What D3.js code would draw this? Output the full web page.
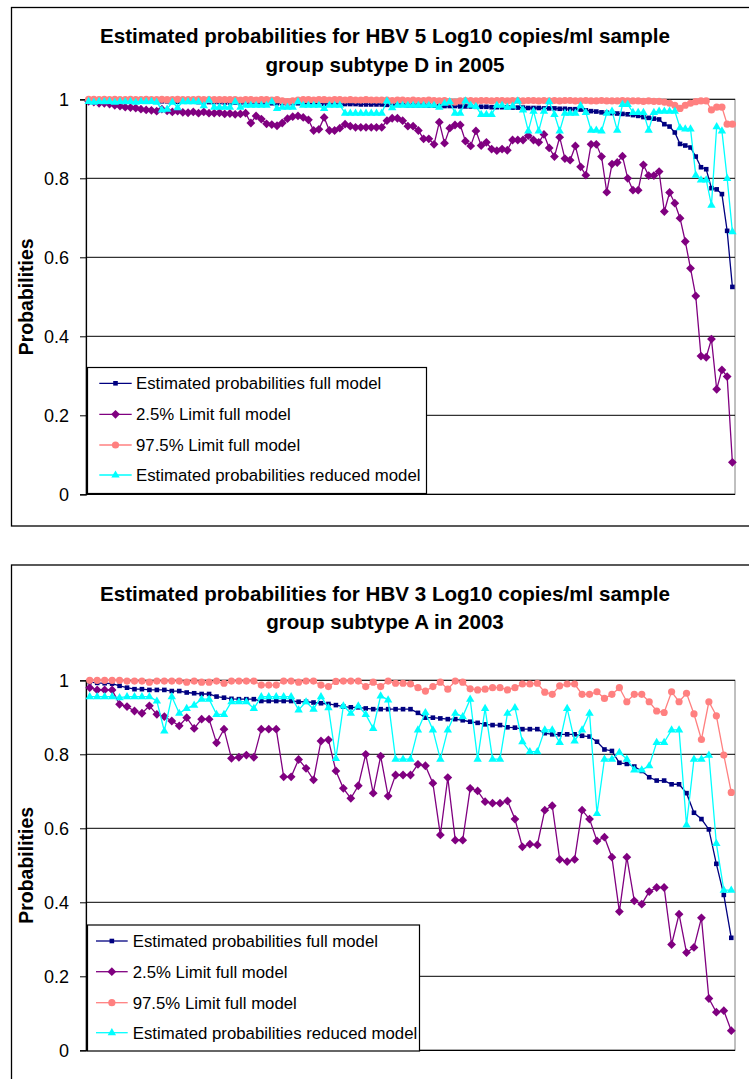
<!DOCTYPE html>
<html>
<head>
<meta charset="utf-8">
<script src="https://cdn.jsdelivr.net/npm/d3@7"></script>
<style>
  body { margin: 0; background: #fff; }
  svg { display: block; }
  text { font-family: Arial, "Liberation Sans", sans-serif; }
</style>
</head>
<body>
<svg id="chart" width="749" height="1079"></svg>
<script>
// Series shared by both panels
const seriesNames = [
  "Estimated probabilities full model",
  "2.5% Limit full model",
  "97.5% Limit full model",
  "Estimated probabilities reduced model"
];
const seriesColors = ["#000080", "#800080", "#FF8080", "#00FFFF"];
const seriesMarkers = ["square", "diamond", "circle", "triangle"];

const tickValues = [0, 0.2, 0.4, 0.6, 0.8, 1];
const tickLabels = ["0", "0.2", "0.4", "0.6", "0.8", "1"];

// Panel 1: HBV 5 Log10 copies/ml, subtype D, 2005 (124 samples)
const titleD2005 = ["Estimated probabilities for HBV 5 Log10 copies/ml sample", "group subtype D in 2005"];
const fullD2005 = [
  0.998, 0.998, 0.998, 0.997, 0.997, 0.997, 0.997, 0.996, 0.996, 0.996,
  0.996, 0.995, 0.995, 0.995, 0.995, 0.995, 0.994, 0.994, 0.994, 0.994,
  0.994, 0.993, 0.993, 0.993, 0.993, 0.993, 0.992, 0.992, 0.992, 0.992,
  0.992, 0.991, 0.991, 0.991, 0.991, 0.990, 0.990, 0.990, 0.990, 0.990,
  0.990, 0.989, 0.989, 0.989, 0.989, 0.989, 0.988, 0.988, 0.988, 0.988,
  0.988, 0.988, 0.987, 0.987, 0.987, 0.987, 0.987, 0.986, 0.986, 0.986,
  0.986, 0.985, 0.985, 0.985, 0.985, 0.984, 0.984, 0.984, 0.983, 0.983,
  0.983, 0.982, 0.982, 0.982, 0.981, 0.981, 0.981, 0.980, 0.980, 0.980,
  0.980, 0.979, 0.979, 0.979, 0.978, 0.978, 0.978, 0.977, 0.977, 0.977,
  0.976, 0.976, 0.975, 0.975, 0.974, 0.972, 0.970, 0.969, 0.967, 0.966,
  0.965, 0.964, 0.963, 0.962, 0.960, 0.958, 0.955, 0.953, 0.951, 0.949,
  0.937, 0.931, 0.916, 0.887, 0.883, 0.878, 0.855, 0.828, 0.823, 0.775,
  0.772, 0.760, 0.667, 0.525
];
const lowerD2005 = [
  0.995, 0.993, 0.990, 0.990, 0.988, 0.985, 0.983, 0.980, 0.979, 0.978,
  0.975, 0.973, 0.972, 0.970, 0.975, 0.971, 0.968, 0.970, 0.967, 0.966,
  0.968, 0.965, 0.968, 0.965, 0.965, 0.966, 0.963, 0.964, 0.962, 0.963,
  0.965, 0.940, 0.958, 0.950, 0.938, 0.936, 0.933, 0.940, 0.951, 0.956,
  0.958, 0.954, 0.948, 0.921, 0.924, 0.954, 0.921, 0.921, 0.927, 0.937,
  0.932, 0.929, 0.929, 0.929, 0.929, 0.929, 0.929, 0.946, 0.952, 0.952,
  0.946, 0.932, 0.932, 0.921, 0.900, 0.900, 0.886, 0.942, 0.889, 0.927,
  0.935, 0.935, 0.894, 0.882, 0.920, 0.883, 0.891, 0.874, 0.870, 0.874,
  0.871, 0.897, 0.897, 0.897, 0.908, 0.897, 0.891, 0.911, 0.877, 0.855,
  0.904, 0.850, 0.846, 0.882, 0.829, 0.808, 0.886, 0.886, 0.855, 0.765,
  0.836, 0.840, 0.856, 0.800, 0.770, 0.770, 0.834, 0.807, 0.807, 0.817,
  0.716, 0.764, 0.737, 0.699, 0.640, 0.572, 0.502, 0.350, 0.347, 0.393,
  0.266, 0.315, 0.298, 0.081
];
const upperD2005 = [
  1.000, 1.000, 0.999, 1.000, 0.999, 1.000, 0.999, 0.999, 1.000, 0.999,
  0.999, 1.000, 0.999, 0.999, 1.000, 0.999, 0.999, 1.000, 0.999, 0.999,
  0.999, 1.000, 0.999, 0.999, 0.999, 0.999, 0.999, 0.999, 0.999, 0.998,
  0.999, 0.999, 0.998, 0.999, 0.999, 0.998, 0.999, 0.996, 0.994, 0.996,
  0.998, 0.999, 0.999, 0.998, 0.999, 0.999, 0.998, 0.999, 0.999, 0.998,
  0.999, 0.998, 0.998, 0.999, 0.998, 0.998, 0.998, 0.998, 0.997, 0.998,
  0.998, 0.997, 0.998, 0.997, 0.997, 0.998, 0.997, 0.996, 0.997, 0.994,
  0.993, 0.996, 0.997, 0.997, 0.996, 0.997, 0.997, 0.996, 0.997, 0.997,
  0.996, 0.997, 0.997, 0.996, 0.997, 0.997, 0.996, 0.997, 0.996, 0.997,
  0.996, 0.997, 0.997, 0.996, 0.996, 0.997, 0.996, 0.996, 0.997, 0.996,
  0.996, 0.996, 0.997, 0.996, 0.996, 0.996, 0.995, 0.996, 0.995, 0.995,
  0.993, 0.990, 0.985, 0.977, 0.985, 0.990, 0.994, 0.996, 0.996, 0.973,
  0.980, 0.980, 0.937, 0.937
];
const reducedD2005 = [
  0.995, 0.993, 0.995, 0.994, 0.995, 0.993, 0.995, 0.994, 0.995, 0.993,
  0.995, 0.994, 0.995, 0.993, 0.973, 0.975, 0.993, 0.979, 0.994, 0.994,
  0.994, 0.994, 0.984, 0.998, 0.980, 0.980, 0.980, 0.980, 0.994, 0.980,
  0.985, 0.985, 0.985, 0.985, 0.985, 0.994, 0.977, 0.980, 0.980, 0.980,
  0.994, 0.985, 0.985, 0.985, 0.985, 0.977, 0.985, 0.985, 0.985, 0.965,
  0.965, 0.965, 0.965, 0.965, 0.965, 0.965, 0.965, 0.996, 0.979, 0.985,
  0.985, 0.985, 0.985, 0.985, 0.985, 0.985, 0.985, 0.980, 0.990, 0.994,
  0.965, 0.965, 0.996, 0.985, 0.982, 0.962, 0.962, 0.962, 0.985, 0.985,
  0.980, 0.983, 0.996, 0.973, 0.920, 0.970, 0.920, 0.970, 0.994, 0.962,
  0.920, 0.965, 0.965, 0.965, 0.984, 0.967, 0.922, 0.922, 0.920, 0.965,
  0.970, 0.922, 0.987, 0.987, 0.967, 0.967, 0.967, 0.922, 0.967, 0.970,
  0.970, 0.970, 0.970, 0.928, 0.925, 0.925, 0.808, 0.796, 0.796, 0.732,
  0.931, 0.920, 0.800, 0.665
];

// Panel 2: HBV 3 Log10 copies/ml, subtype A, 2003 (87 samples)
const titleA2003 = ["Estimated probabilities for HBV 3 Log10 copies/ml sample", "group subtype A in 2003"];
const fullA2003 = [
  0.995, 0.993, 0.992, 0.991, 0.985, 0.980, 0.976, 0.976, 0.974, 0.974,
  0.974, 0.971, 0.971, 0.967, 0.965, 0.963, 0.963, 0.956, 0.953, 0.950,
  0.949, 0.949, 0.949, 0.944, 0.944, 0.944, 0.944, 0.944, 0.942, 0.942,
  0.940, 0.938, 0.936, 0.933, 0.929, 0.927, 0.927, 0.924, 0.922, 0.922,
  0.922, 0.922, 0.922, 0.922, 0.912, 0.899, 0.899, 0.897, 0.895, 0.895,
  0.892, 0.888, 0.885, 0.881, 0.879, 0.879, 0.873, 0.872, 0.868, 0.868,
  0.868, 0.857, 0.854, 0.854, 0.854, 0.854, 0.850, 0.848, 0.834, 0.813,
  0.809, 0.777, 0.774, 0.767, 0.755, 0.738, 0.729, 0.729, 0.719, 0.719,
  0.695, 0.642, 0.625, 0.597, 0.504, 0.420, 0.304
];
const lowerA2003 = [
  0.980, 0.974, 0.974, 0.974, 0.935, 0.929, 0.917, 0.911, 0.931, 0.908,
  0.902, 0.890, 0.877, 0.899, 0.870, 0.895, 0.895, 0.831, 0.868, 0.789,
  0.792, 0.798, 0.792, 0.868, 0.868, 0.868, 0.739, 0.739, 0.786, 0.762,
  0.731, 0.836, 0.839, 0.755, 0.708, 0.681, 0.715, 0.800, 0.695, 0.795,
  0.687, 0.744, 0.744, 0.744, 0.773, 0.769, 0.722, 0.582, 0.737, 0.568,
  0.568, 0.708, 0.701, 0.672, 0.668, 0.668, 0.674, 0.625, 0.550, 0.557,
  0.555, 0.649, 0.661, 0.516, 0.510, 0.516, 0.649, 0.625, 0.566, 0.576,
  0.522, 0.375, 0.522, 0.404, 0.395, 0.429, 0.440, 0.440, 0.286, 0.368,
  0.264, 0.278, 0.358, 0.140, 0.103, 0.107, 0.053
];
const upperA2003 = [
  1.000, 1.000, 1.000, 1.000, 1.000, 0.998, 0.998, 0.998, 0.995, 0.998,
  0.998, 0.998, 0.998, 0.995, 0.998, 0.995, 0.995, 0.998, 0.992, 0.998,
  0.998, 0.998, 0.998, 0.987, 0.987, 0.987, 0.998, 0.998, 0.995, 0.998,
  0.998, 0.987, 0.983, 0.997, 0.998, 0.998, 0.998, 0.983, 0.995, 0.983,
  0.998, 0.992, 0.992, 0.990, 0.980, 0.971, 0.983, 0.995, 0.976, 0.998,
  0.995, 0.977, 0.974, 0.976, 0.980, 0.980, 0.974, 0.980, 0.990, 0.990,
  0.992, 0.968, 0.962, 0.985, 0.990, 0.990, 0.962, 0.962, 0.969, 0.951,
  0.962, 0.980, 0.942, 0.962, 0.962, 0.942, 0.917, 0.913, 0.969, 0.942,
  0.965, 0.909, 0.840, 0.942, 0.904, 0.798, 0.697
];
const reducedA2003 = [
  0.956, 0.956, 0.956, 0.956, 0.953, 0.956, 0.956, 0.956, 0.956, 0.944,
  0.863, 0.956, 0.911, 0.924, 0.933, 0.949, 0.949, 0.908, 0.908, 0.942,
  0.942, 0.942, 0.924, 0.956, 0.956, 0.956, 0.956, 0.956, 0.920, 0.942,
  0.922, 0.956, 0.926, 0.789, 0.931, 0.911, 0.931, 0.908, 0.870, 0.958,
  0.947, 0.787, 0.787, 0.787, 0.866, 0.913, 0.866, 0.787, 0.866, 0.911,
  0.902, 0.949, 0.787, 0.924, 0.787, 0.787, 0.911, 0.926, 0.834, 0.807,
  0.807, 0.866, 0.866, 0.832, 0.924, 0.836, 0.866, 0.911, 0.640, 0.787,
  0.787, 0.805, 0.787, 0.758, 0.758, 0.769, 0.832, 0.832, 0.866, 0.866,
  0.609, 0.787, 0.787, 0.798, 0.559, 0.433, 0.433
];

// Marker outlines centred on (0,0)
function markerPath(kind) {
  switch (kind) {
    case "square":   return "M-2.3,-2.3h4.6v4.6h-4.6Z";
    case "diamond":  return "M0,-4.4L4.4,0L0,4.4L-4.4,0Z";
    case "circle":   return "M3.6,0A3.6,3.6 0 1,1 -3.6,0A3.6,3.6 0 1,1 3.6,0Z";
    case "triangle": return "M0,-4.6L4.2,2.6L-4.2,2.6Z";
  }
}

const svg = d3.select("#chart");
const plotLeft = 86, plotRight = 735;

function drawPanel(cfg) {
  const g = svg.append("g");

  // outer chart frame
  g.append("rect")
    .attr("x", 11.5).attr("y", cfg.frameTop)
    .attr("width", 770).attr("height", cfg.frameHeight)
    .attr("fill", "#fff").attr("stroke", "#000").attr("stroke-width", 1.3);

  // title
  g.append("text")
    .attr("x", 385).attr("text-anchor", "middle")
    .attr("font-size", 20.6).attr("font-weight", "bold")
    .selectAll("tspan").data(cfg.title).join("tspan")
    .attr("x", 385).attr("y", (d, i) => cfg.titleY[i])
    .text(d => d);

  const n = cfg.series[0].length;
  const x = d3.scaleBand().domain(d3.range(n)).range([plotLeft, plotRight]);
  const cx = i => x(i) + x.bandwidth() / 2;
  const y = d3.scaleLinear().domain([0, 1]).range([cfg.yZero, cfg.yOne]);

  // plot area
  g.append("rect")
    .attr("x", plotLeft).attr("y", y(1))
    .attr("width", plotRight - plotLeft).attr("height", y(0) - y(1))
    .attr("fill", "#fff").attr("stroke", "#808080").attr("stroke-width", 1);

  // horizontal gridlines
  g.append("g").selectAll("line").data(tickValues.filter(v => v > 0)).join("line")
    .attr("x1", plotLeft).attr("x2", plotRight)
    .attr("y1", d => y(d)).attr("y2", d => y(d))
    .attr("stroke", "#000").attr("stroke-width", 1);

  // y axis
  const axis = d3.axisLeft(y).tickValues(tickValues)
    .tickFormat((d, i) => tickLabels[i]).tickSize(6).tickPadding(11);
  const ax = g.append("g").attr("transform", `translate(${plotLeft},0)`).call(axis);
  ax.select(".domain").attr("stroke", "#000").attr("stroke-width", 1.2);
  ax.selectAll(".tick line").attr("stroke", "#000");
  ax.selectAll(".tick text").attr("font-size", 18).attr("fill", "#000")
    .attr("font-family", "Arial, 'Liberation Sans', sans-serif");

  // x axis line
  g.append("line")
    .attr("x1", plotLeft).attr("x2", plotRight)
    .attr("y1", y(0)).attr("y2", y(0))
    .attr("stroke", "#000").attr("stroke-width", 1.2);

  // y axis title
  g.append("text")
    .attr("transform", `translate(33,${(y(0) + y(1)) / 2}) rotate(-90)`)
    .attr("text-anchor", "middle")
    .attr("font-size", 19.5).attr("font-weight", "bold")
    .text("Probabilities");

  // series: lines, then markers
  const line = d3.line().x((d, i) => cx(i)).y(d => y(d));
  cfg.series.forEach((vals, s) => {
    const sg = g.append("g");
    sg.append("path").datum(vals)
      .attr("d", line).attr("fill", "none")
      .attr("stroke", seriesColors[s]).attr("stroke-width", 1.3);
    sg.selectAll("path.mk").data(vals).join("path")
      .attr("class", "mk")
      .attr("transform", (d, i) => `translate(${cx(i)},${y(d)})`)
      .attr("d", markerPath(seriesMarkers[s]))
      .attr("fill", seriesColors[s]);
  });

  // legend
  const L = cfg.legend;
  const lg = g.append("g");
  lg.append("rect")
    .attr("x", L.x).attr("y", L.y).attr("width", L.w).attr("height", L.h)
    .attr("fill", "#fff").attr("stroke", "#000").attr("stroke-width", 1.2);
  seriesNames.forEach((name, s) => {
    const ry = L.rows[s];
    lg.append("line")
      .attr("x1", L.lineX0).attr("x2", L.lineX1)
      .attr("y1", ry).attr("y2", ry)
      .attr("stroke", seriesColors[s]).attr("stroke-width", 1.3);
    lg.append("path")
      .attr("transform", `translate(${(L.lineX0 + L.lineX1) / 2},${ry})`)
      .attr("d", markerPath(seriesMarkers[s]))
      .attr("fill", seriesColors[s]);
    lg.append("text")
      .attr("x", L.textX).attr("y", ry).attr("dy", "0.36em")
      .attr("font-size", 16.8)
      .text(name);
  });
}

drawPanel({
  frameTop: 7.5, frameHeight: 518.5,
  title: titleD2005, titleY: [43, 72],
  yZero: 494.3, yOne: 99.3,
  series: [fullD2005, lowerD2005, upperD2005, reducedD2005],
  legend: { x: 87.5, y: 367.5, w: 339, h: 126, rows: [383.3, 414.3, 445, 475],
            lineX0: 99.3, lineX1: 131.7, textX: 136 }
});

drawPanel({
  frameTop: 565, frameHeight: 600,
  title: titleA2003, titleY: [601, 629],
  yZero: 1050.3, yOne: 680.3,
  series: [fullA2003, lowerA2003, upperA2003, reducedA2003],
  legend: { x: 87.5, y: 925, w: 332, h: 126, rows: [941, 971.7, 1002.7, 1032.7],
            lineX0: 96, lineX1: 127.7, textX: 132.7 }
});
</script>
</body>
</html>
